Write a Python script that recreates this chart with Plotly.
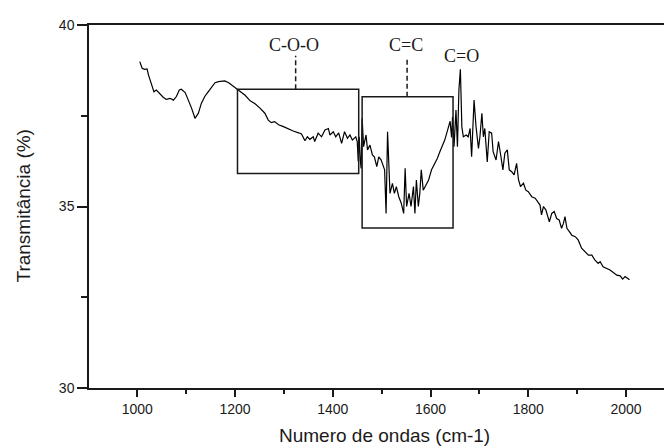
import plotly.graph_objects as go

# Wavenumber (cm-1) and transmittance (%)
wavenumber = [
    1005, 1010, 1015, 1020, 1023, 1028, 1034, 1039, 1045, 1053,
    1059, 1067, 1074, 1080, 1086, 1090, 1098, 1105, 1111, 1118,
    1125, 1131, 1138, 1145, 1152, 1159, 1166, 1172, 1179, 1187,
    1193, 1202, 1210, 1220, 1231, 1241, 1251, 1261, 1268, 1274,
    1281, 1289, 1299, 1309, 1319, 1330, 1336, 1343, 1348, 1353,
    1360, 1363, 1370, 1377, 1384, 1391, 1394, 1401, 1406, 1412,
    1418, 1424, 1430, 1435, 1440, 1447, 1450, 1452, 1454, 1456,
    1458, 1460, 1463, 1468, 1471, 1476, 1481, 1485, 1490, 1494,
    1499, 1506, 1509, 1512, 1514, 1517, 1522, 1526, 1530, 1535,
    1540, 1545, 1548, 1551, 1556, 1560, 1565, 1568, 1571, 1575,
    1578, 1581, 1585, 1589, 1596, 1602, 1609, 1614, 1619, 1624,
    1629, 1635, 1640, 1643, 1645, 1648, 1652, 1655, 1658, 1661,
    1664, 1667, 1673, 1677, 1681, 1684, 1689, 1693, 1698, 1701,
    1705, 1708, 1711, 1716, 1720, 1725, 1728, 1734, 1739, 1744,
    1748, 1752, 1757, 1761, 1766, 1771, 1776, 1780, 1784, 1790,
    1795, 1800, 1807, 1814, 1824, 1827, 1831, 1836, 1843, 1848,
    1853, 1858, 1863, 1868, 1872, 1875, 1879, 1884, 1889, 1896,
    1902, 1909, 1916, 1923, 1930, 1936, 1943, 1947, 1953, 1960,
    1967, 1974, 1981, 1988, 1993, 1998, 2003, 2007,
]
transmittance = [
    38.99, 38.81, 38.78, 38.79, 38.62, 38.39, 38.16, 38.21, 38.12, 38.01,
    37.95, 37.98, 37.93, 38.03, 38.21, 38.23, 38.14, 37.93, 37.71, 37.43,
    37.57, 37.84, 38.03, 38.16, 38.30, 38.41, 38.44, 38.44, 38.46, 38.41,
    38.35, 38.26, 38.16, 38.07, 37.91, 37.83, 37.71, 37.57, 37.38, 37.31,
    37.34, 37.25, 37.20, 37.13, 37.08, 37.03, 37.00, 36.81, 36.92, 36.85,
    36.92, 36.79, 37.02, 36.92, 37.11, 37.15, 36.97, 37.06, 36.92, 37.03,
    36.74, 37.06, 36.88, 36.97, 36.83, 36.92, 36.79, 36.25, 36.92, 36.30,
    36.05, 37.43, 36.65, 36.97, 36.56, 36.69, 36.42, 36.37, 36.10, 36.37,
    36.28, 36.01, 34.81, 37.06, 36.37, 35.36, 35.64, 35.36, 35.55, 35.27,
    35.09, 34.81, 36.05, 35.00, 35.36, 35.00, 35.55, 34.81, 35.73, 35.00,
    35.36, 36.01, 35.45, 35.55, 35.73, 36.01, 36.19, 36.33, 36.51, 36.65,
    36.83, 37.11, 37.35, 36.90, 37.47, 36.65, 37.66, 36.65, 38.21, 38.78,
    37.20, 36.92, 36.97, 36.92, 37.15, 36.37, 37.93, 37.20, 36.60, 36.92,
    37.57, 36.92, 37.15, 36.23, 37.06, 37.02, 36.51, 36.28, 36.79, 36.37,
    36.01, 36.47, 36.56, 36.01, 35.96, 35.87, 36.19, 35.73, 35.55, 35.64,
    35.45, 35.41, 35.27, 35.23, 35.04, 34.77, 35.00, 34.90, 34.58, 34.81,
    34.86, 34.67, 34.63, 34.40, 34.54, 34.72, 34.40, 34.31, 34.21, 34.17,
    34.08, 33.85, 33.76, 33.66, 33.66, 33.53, 33.43, 33.48, 33.34, 33.30,
    33.25, 33.18, 33.11, 33.09, 33.00, 33.07, 33.02, 32.98,
]

# Band annotations: label, label position, box extents, leader line top
band_labels = ["C-O-O", "C=C", "C=O"]
label_x = [1320, 1549, 1664]
label_y = [39.45, 39.44, 39.15]
box_x0 = [1205, 1460]
box_x1 = [1453, 1646]
box_y0 = [35.91, 34.41]
box_y1 = [38.23, 38.02]
leader_x = [1324, 1552]
leader_top = [39.15, 39.09]

x_range = [901.2, 2077.6]
y_range = [30, 40]

ink = "#1a1a1a"
sans = "Liberation Sans, Arial, sans-serif"
serif = "Liberation Serif, Times New Roman, serif"

fig = go.Figure()
fig.add_trace(go.Scatter(
    x=wavenumber, y=transmittance, mode="lines",
    line=dict(color="black", width=1.2), showlegend=False, hoverinfo="skip",
))

for i in range(len(box_x0)):
    fig.add_shape(type="rect", xref="x", yref="y",
                  x0=box_x0[i], x1=box_x1[i], y0=box_y0[i], y1=box_y1[i],
                  line=dict(color=ink, width=1.5), fillcolor="rgba(0,0,0,0)")
    fig.add_shape(type="line", xref="x", yref="y",
                  x0=leader_x[i], x1=leader_x[i], y0=box_y1[i], y1=leader_top[i],
                  line=dict(color=ink, width=1.5, dash="5px,3px"))

for i, lab in enumerate(band_labels):
    fig.add_annotation(x=label_x[i], y=label_y[i], xref="x", yref="y",
                       text=lab, showarrow=False,
                       font=dict(family=serif, size=18, color=ink),
                       xanchor="center", yanchor="middle")

# Axis titles
fig.add_annotation(x=1506, y=0, xref="x", yref="paper", yshift=-47,
                   text="Numero de ondas (cm-1)", showarrow=False,
                   font=dict(family=sans, size=19, color=ink),
                   xanchor="center", yanchor="middle", borderpad=0)
fig.add_annotation(x=0, y=0.5, xref="paper", yref="paper", xshift=-66,
                   text="Transmitância (%)", showarrow=False, textangle=-90,
                   font=dict(family=sans, size=19, color=ink),
                   xanchor="center", yanchor="middle")

fig.update_layout(
    width=664, height=448,
    margin=dict(l=89, r=0, t=25, b=60),
    paper_bgcolor="white", plot_bgcolor="white",
    font=dict(family=sans, size=15, color=ink),
    xaxis=dict(range=x_range, tick0=1000, dtick=200, ticks="outside",
               ticklen=7, tickwidth=1.5, tickcolor=ink,
               showline=True, linecolor=ink, linewidth=1.5, mirror=True,
               showgrid=False, zeroline=False,
               minor=dict(dtick=100, tick0=1000, ticks="outside", ticklen=4,
                          tickwidth=1.5, tickcolor=ink, showgrid=False),
               tickfont=dict(family=sans, size=14, color=ink)),
    yaxis=dict(range=y_range, tick0=30, dtick=5, ticks="outside",
               ticklen=10, tickwidth=1.5, tickcolor=ink,
               showline=True, linecolor=ink, linewidth=1.5, mirror=False,
               showgrid=False, zeroline=False,
               minor=dict(dtick=2.5, ticks="outside", ticklen=6,
                          tickwidth=1.5, tickcolor=ink, showgrid=False),
               tickfont=dict(family=sans, size=14, color=ink)),
)

fig.write_html("out.html")
